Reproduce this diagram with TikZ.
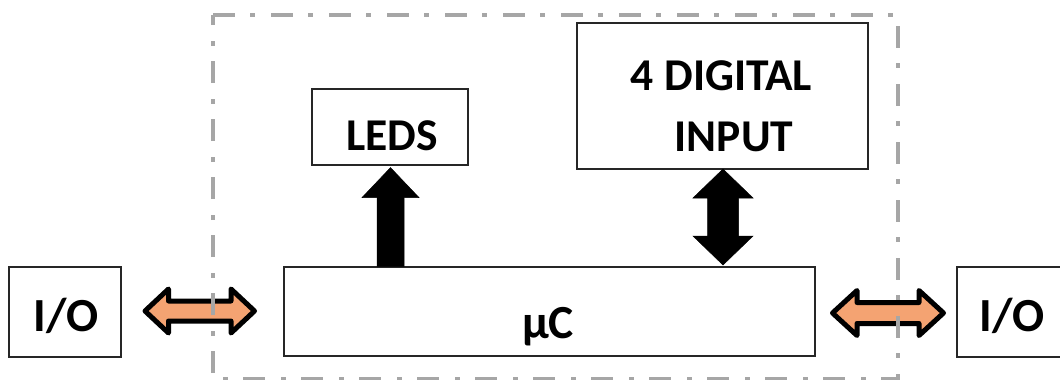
\documentclass[tikz,border=0pt]{standalone}
\usepackage{fontspec}
\setmainfont{Carlito}
\usetikzlibrary{calc}
\definecolor{frame}{HTML}{A6A6A6}
\definecolor{orangefill}{HTML}{F4A372}
\newcommand{\hdblarrow}[6]{% start, end, head length, head half, shaft half, style
  \path[#6] let \p1=(#1), \p2=(#2) in
    (\x1,\y1) -- (\x1+#3,\y1+#4) -- (\x1+#3,\y1+#5) -- (\x2-#3,\y1+#5) -- (\x2-#3,\y1+#4)
    -- (\x2,\y1) -- (\x2-#3,\y1-#4) -- (\x2-#3,\y1-#5) -- (\x1+#3,\y1-#5) -- (\x1+#3,\y1-#4) -- cycle;}
\newcommand{\vdblarrow}[6]{% top, bottom, head length, head half, shaft half, style
  \path[#6] let \p1=(#1), \p2=(#2) in
    (\x1,\y1) -- (\x1+#4,\y1-#3) -- (\x1+#5,\y1-#3) -- (\x1+#5,\y2+#3) -- (\x1+#4,\y2+#3)
    -- (\x1,\y2) -- (\x1-#4,\y2+#3) -- (\x1-#5,\y2+#3) -- (\x1-#5,\y1-#3) -- (\x1-#4,\y1-#3) -- cycle;}
\newcommand{\uparrowshape}[6]{% tip, bottom, head length, head half, shaft half, style
  \path[#6] let \p1=(#1), \p2=(#2) in
    (\x1,\y1) -- (\x1+#4,\y1-#3) -- (\x1+#5,\y1-#3) -- (\x1+#5,\y2) -- (\x1-#5,\y2)
    -- (\x1-#5,\y1-#3) -- (\x1-#4,\y1-#3) -- cycle;}
\begin{document}
\begin{tikzpicture}[x=1pt,y=-1pt,
  blockbox/.style={draw=black!85,line width=1.2pt,fill=white,inner sep=0pt,anchor=center},
  bigtxt/.style={font=\bfseries\fontsize{47.5}{55}\selectfont,anchor=base,inner sep=0pt},
  smalltxt/.style={font=\bfseries\fontsize{45.5}{50}\selectfont,anchor=base,inner sep=0pt},
  orangearrow/.style={fill=orangefill,draw=black,line width=5pt,line join=round},
  blackarrow/.style={fill=black,draw=black,line width=0.5pt,line join=miter},
  dashframe/.style={draw=frame,line width=4pt,dash pattern=on 22pt off 15pt on 5pt off 16pt}]
\useasboundingbox (0,0) rectangle (1060,380);
% boxes
\node[blockbox,minimum width=112pt,minimum height=90pt] (io1) at (65,312) {};
\node[blockbox,minimum width=531pt,minimum height=89pt] (uc) at (549.5,311.5) {};
\node[blockbox,minimum width=112pt,minimum height=90pt] (io2) at (1013,312) {};
\node[blockbox,minimum width=156pt,minimum height=76pt] (leds) at (390,127) {};
\node[blockbox,minimum width=291pt,minimum height=146pt] (dig) at (722.5,96) {};
% texts
\node[bigtxt] (io1t) at (66,331.5) {I/O};
\node[bigtxt] (uct) at (548,338) {µC};
\node[bigtxt] (io2t) at (1012,331.5) {I/O};
\node[smalltxt] (ledst) at (392,150.5) {LEDS};
\node[smalltxt] (digt1) at (721.5,90) {4 DIGITAL};
\node[smalltxt] (digt2) at (734,151.5) {INPUT};
% arrow end points
\coordinate (la1) at (145,311);
\coordinate (la2) at (254.5,311);
\coordinate (ra1) at (832.5,313);
\coordinate (ra2) at (943.5,313);
\coordinate (ledtip) at ($(leds.south)+(0.5,2)$);
\coordinate (ledbase) at (uc.north -| ledtip);
\coordinate (dtop) at (723,169);
\coordinate (dbot) at (723,265);
% arrows
\hdblarrow{la1}{la2}{23.5pt}{22pt}{10pt}{orangearrow}
\hdblarrow{ra1}{ra2}{24.5pt}{22.5pt}{10.5pt}{orangearrow}
\uparrowshape{ledtip}{ledbase}{30pt}{28.5pt}{13.5pt}{blackarrow}
\vdblarrow{dtop}{dbot}{29pt}{30pt}{15.5pt}{blackarrow}
% dashed frame
\coordinate (f1) at (213,15);
\coordinate (f2) at (898,379);
\draw[dashframe] (f1) -- (f1 -| f2) -- (f2) -- (f2 -| f1) -- cycle;
\end{tikzpicture}
\end{document}
